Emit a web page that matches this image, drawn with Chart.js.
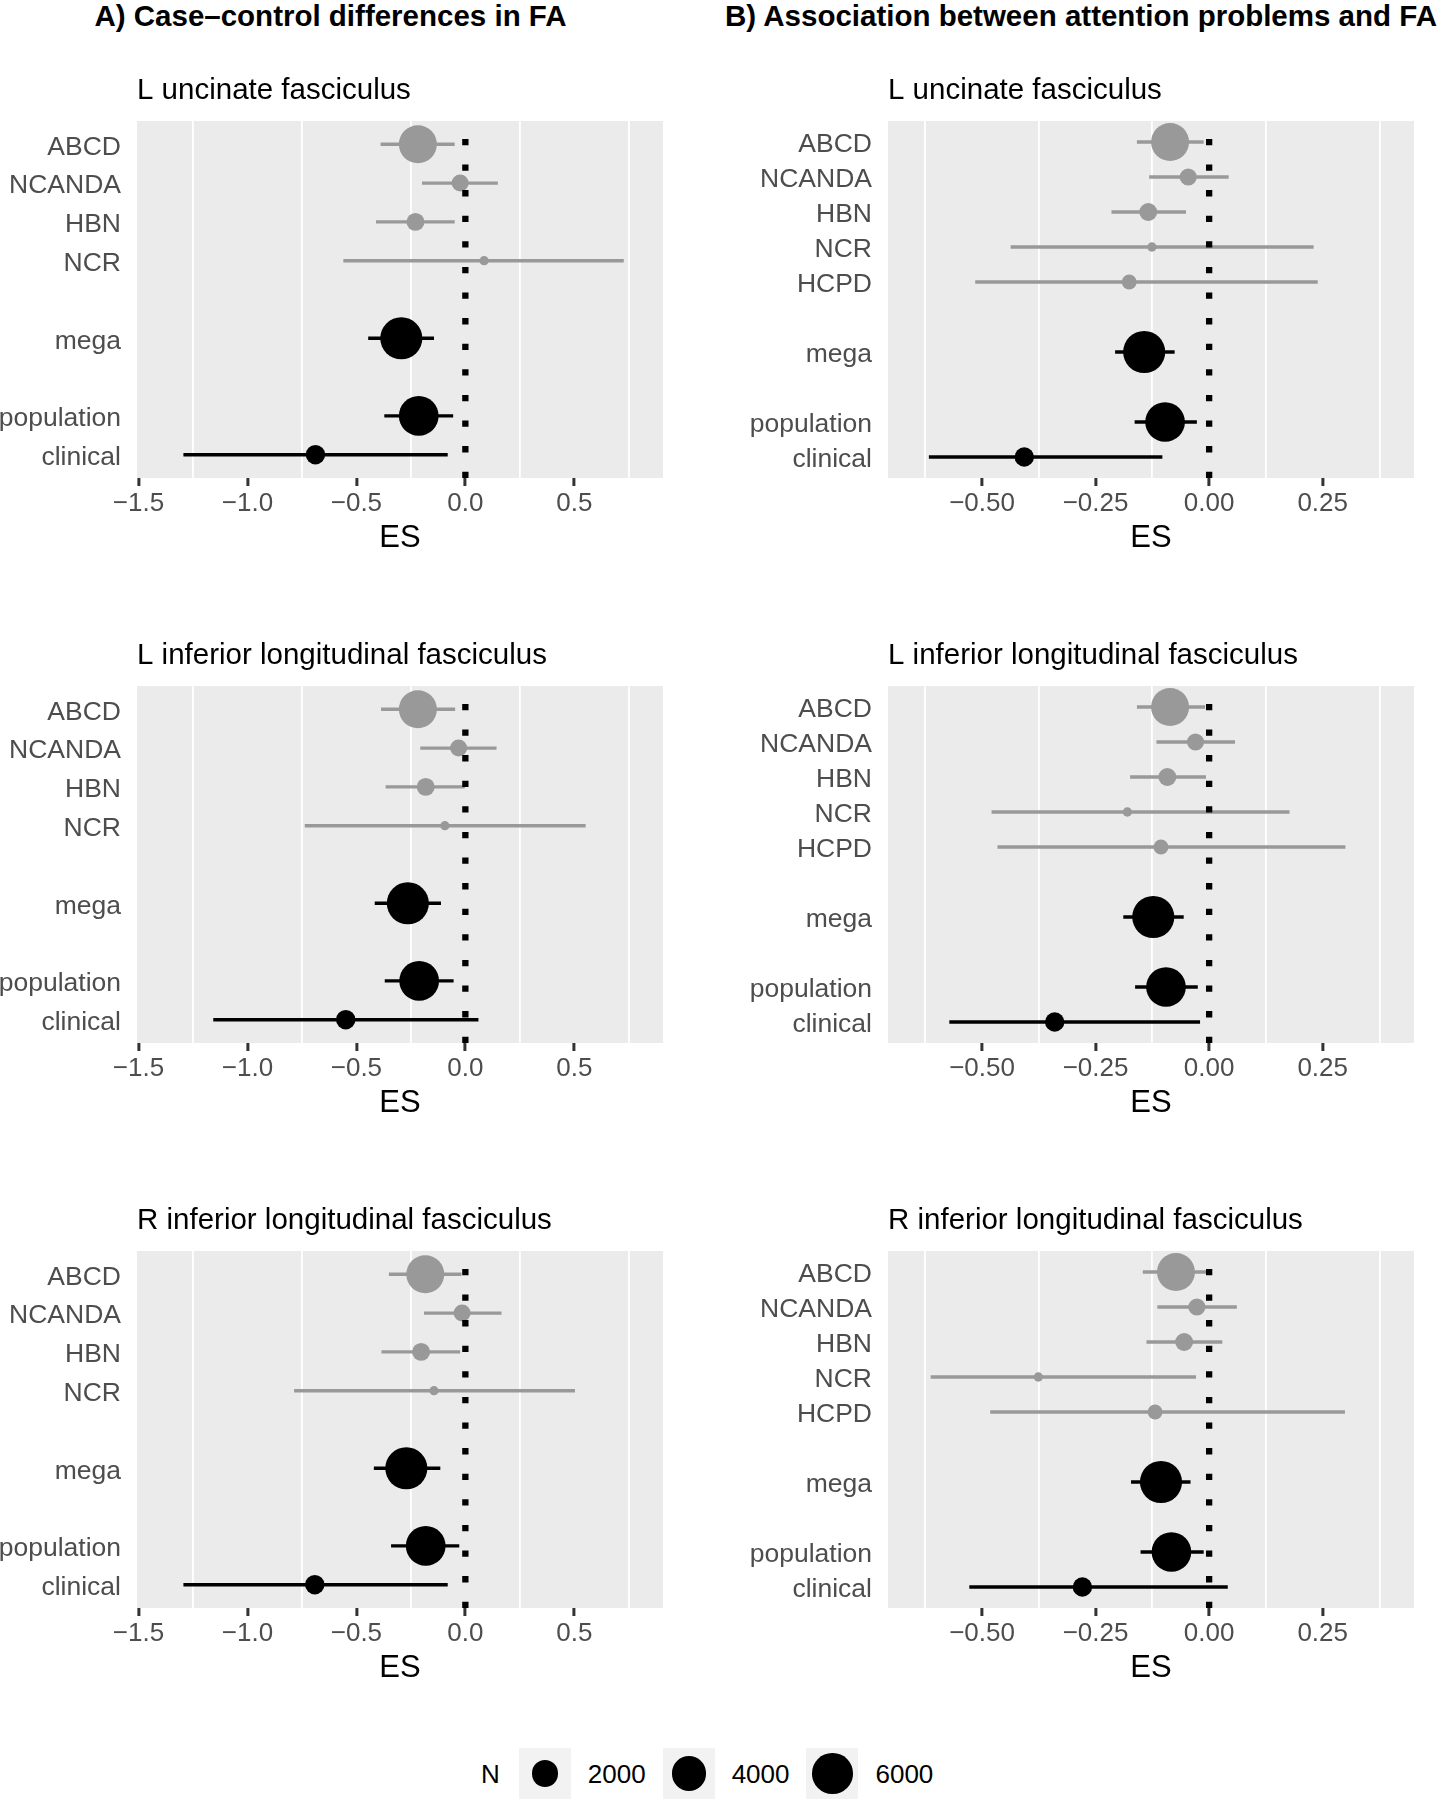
<!DOCTYPE html>
<html>
<head>
<meta charset="utf-8">
<script src="https://cdn.jsdelivr.net/npm/chart.js@4.4.1/dist/chart.umd.min.js"></script>
<style>
  body { margin: 0; background: #fff; font-family: "Liberation Sans", Arial, sans-serif; }
  #page { position: relative; width: 1442px; height: 1800px; overflow: hidden; }
  canvas { position: absolute; }
  .head { position: absolute; top: 1px; font-weight: bold; font-size: 29.5px; line-height: 29.5px; text-align: center; white-space: nowrap; color: #000; }
  #legend { position: absolute; left: 481px; top: 1748px; height: 51px; display: flex; align-items: center; font-size: 26px; line-height: 26px; color: #000; }
  .key { width: 52px; height: 51px; background: #F2F2F2; display: flex; align-items: center; justify-content: center; }
  .dot { background: #000; border-radius: 50%; }
</style>
</head>
<body>
<div id="page">
  <div class="head" style="left:0;width:661px">A) Case–control differences in FA</div>
  <div class="head" style="left:721px;width:720px">B) Association between attention problems and FA</div>
  <canvas id="a0"></canvas><canvas id="a1"></canvas><canvas id="a2"></canvas>
  <canvas id="b0"></canvas><canvas id="b1"></canvas><canvas id="b2"></canvas>
  <div id="legend"></div>
</div>
<script>
// rows on the y axis (blank rows are spacers)
const rowsA = ["ABCD", "NCANDA", "HBN", "NCR", "", "mega", "", "population", "clinical"]
const rowsB = ["ABCD", "NCANDA", "HBN", "NCR", "HCPD", "", "mega", "", "population", "clinical"]
const studiesA = ["ABCD", "NCANDA", "HBN", "NCR", "mega", "population", "clinical"]
const studiesB = ["ABCD", "NCANDA", "HBN", "NCR", "HCPD", "mega", "population", "clinical"]
const pooled = ["mega", "population", "clinical"]
const tracts = ["L uncinate fasciculus", "L inferior longitudinal fasciculus", "R inferior longitudinal fasciculus"]

// sample sizes (point size)
const nA = [5200, 560, 660, 110, 6700, 5800, 840]
const nB = [5200, 580, 660, 110, 370, 6700, 5800, 840]
const legendN = [2000, 4000, 6000]

// A) case-control effect sizes
const esA_UF = [-0.218, -0.024, -0.229, 0.086, -0.294, -0.214, -0.688]
const loA_UF = [-0.389, -0.199, -0.410, -0.560, -0.446, -0.372, -1.294]
const hiA_UF = [-0.049, 0.149, -0.049, 0.727, -0.144, -0.056, -0.081]

const esA_LILF = [-0.218, -0.031, -0.182, -0.094, -0.264, -0.212, -0.549]
const loA_LILF = [-0.387, -0.207, -0.366, -0.737, -0.416, -0.370, -1.157]
const hiA_LILF = [-0.047, 0.143, -0.003, 0.552, -0.112, -0.054, 0.060]

const esA_RILF = [-0.184, -0.015, -0.203, -0.144, -0.271, -0.182, -0.691]
const loA_RILF = [-0.351, -0.190, -0.385, -0.786, -0.420, -0.341, -1.294]
const hiA_RILF = [-0.018, 0.166, -0.024, 0.503, -0.115, -0.028, -0.081]

// B) association with attention problems
const esB_UF = [-0.086, -0.046, -0.134, -0.126, -0.176, -0.143, -0.097, -0.407]
const loB_UF = [-0.159, -0.132, -0.215, -0.437, -0.515, -0.207, -0.164, -0.617]
const hiB_UF = [-0.012, 0.043, -0.051, 0.230, 0.239, -0.076, -0.027, -0.103]

const esB_LILF = [-0.086, -0.030, -0.092, -0.180, -0.106, -0.123, -0.095, -0.340]
const loB_LILF = [-0.159, -0.116, -0.174, -0.479, -0.466, -0.189, -0.163, -0.572]
const hiB_LILF = [-0.009, 0.057, -0.007, 0.177, 0.300, -0.056, -0.025, -0.020]

const esB_RILF = [-0.073, -0.027, -0.055, -0.376, -0.119, -0.106, -0.083, -0.279]
const loB_RILF = [-0.146, -0.114, -0.138, -0.613, -0.482, -0.172, -0.151, -0.528]
const hiB_RILF = [-0.005, 0.061, 0.029, -0.029, 0.299, -0.041, -0.012, 0.041]

// x axis ticks
const limA = [-1.507, 0.907]
const ticksA = [-1.5, -1.0, -0.5, 0.0, 0.5]
const labelsA = ["−1.5", "−1.0", "−0.5", "0.0", "0.5"]
const gridA = [-1.25, -0.75, -0.25, 0.25, 0.75]

const limB = [-0.707, 0.451]
const ticksB = [-0.5, -0.25, 0.0, 0.25]
const labelsB = ["−0.50", "−0.25", "0.00", "0.25"]
const gridB = [-0.625, -0.375, -0.125, 0.125, 0.375]

Chart.defaults.font.family = '"Liberation Sans", Arial, sans-serif'

// point radius in px from N
function sizeScale(n) {
  return 4 + 0.21 * Math.sqrt(Math.max(n - 100, 0))
}

const panelBg = {
  id: "panelBg",
  beforeDraw(chart) {
    const { ctx, chartArea: a } = chart
    ctx.save()
    ctx.fillStyle = "#EBEBEB"
    ctx.fillRect(a.left, a.top, a.width, a.height)
    ctx.restore()
  },
}

const near = (list, v) => list.findIndex(t => Math.abs(t - v) < 1e-9)

// plot box inside each canvas: top 50, height 357, x axis 82 tall below
const PLOT_TOP = 50
const PLOT_H = 357
const AXIS_H = 82
const CANVAS_H = 495

function makePanel(id, geo, rows, studies, n, est, lo, hi, axis, title) {
  const canvas = document.getElementById(id)
  const width = geo.plotRight - geo.left + 30
  canvas.width = width
  canvas.height = CANVAS_H
  canvas.style.left = geo.left + "px"
  canvas.style.top = geo.top + "px"

  const colors = studies.map(s => (pooled.includes(s) ? "#000000" : "#999999"))
  const rowOf = studies.map(s => rows.indexOf(s))
  const yMax = rows.length - 0.4

  const datasets = [
    {
      type: "line",
      data: [{ x: 0, y: yMax }, { x: 0, y: -0.6 }],
      borderColor: "#000000",
      borderWidth: 6.3,
      borderDash: [6.3, 19.3],
      borderCapStyle: "butt",
      pointRadius: 0,
    },
    {
      type: "bubble",
      data: studies.map((s, i) => ({ x: est[i], y: rowOf[i], r: sizeScale(n[i]) })),
      backgroundColor: colors,
      borderWidth: 0,
      hoverRadius: 0,
    },
  ]
  studies.forEach((s, i) => {
    datasets.push({
      type: "line",
      data: [{ x: lo[i], y: rowOf[i] }, { x: hi[i], y: rowOf[i] }],
      borderColor: colors[i],
      borderWidth: 3.4,
      borderCapStyle: "butt",
      pointRadius: 0,
    })
  })

  const allTicks = [...axis.grid, ...axis.ticks].sort((a, b) => a - b)

  const chart = new Chart(canvas, {
    type: "scatter",
    data: { datasets },
    plugins: [panelBg],
    options: {
      responsive: false,
      animation: false,
      events: [],
      layout: { padding: { left: 0, right: 30, top: 0, bottom: CANVAS_H - PLOT_TOP - PLOT_H - AXIS_H } },
      plugins: {
        legend: { display: false },
        tooltip: { enabled: false },
        title: {
          display: true,
          text: title,
          align: "start",
          fullSize: false,
          color: "#000000",
          font: { size: 29.5, weight: "normal" },
          padding: { top: 2, bottom: 12.6 },
        },
      },
      scales: {
        x: {
          type: "linear",
          min: axis.lim[0],
          max: axis.lim[1],
          afterBuildTicks: s => { s.ticks = allTicks.map(v => ({ value: v })) },
          afterFit: s => { s.height = AXIS_H },
          border: { display: false },
          grid: {
            color: c => (near(axis.grid, c.tick.value) >= 0 ? "#FFFFFF" : "rgba(0,0,0,0)"),
            lineWidth: 1.8,
            tickColor: c => (near(axis.ticks, c.tick.value) >= 0 ? "#333333" : "rgba(0,0,0,0)"),
            tickWidth: 3,
            tickLength: 8,
          },
          ticks: {
            autoSkip: false,
            maxRotation: 0,
            padding: 2,
            color: "#4D4D4D",
            font: { size: 26 },
            callback: v => {
              const k = near(axis.ticks, v)
              return k < 0 ? "" : axis.labels[k]
            },
          },
          title: {
            display: true,
            text: "ES",
            color: "#000000",
            font: { size: 31 },
            padding: { top: 2, bottom: 3 },
          },
        },
        y: {
          type: "linear",
          min: -0.6,
          max: yMax,
          reverse: true,
          afterBuildTicks: s => { s.ticks = rows.map((r, i) => ({ value: i })) },
          afterFit: s => { s.width = geo.yw },
          border: { display: false },
          grid: { display: false, drawTicks: false },
          ticks: {
            autoSkip: false,
            padding: 16,
            labelOffset: 3,
            color: "#4D4D4D",
            font: { size: 26.5 },
            callback: v => rows[v] ?? "",
          },
        },
      },
    },
  })

  // nudge the layout so the plot box lands where the reference has it
  for (let pass = 0; pass < 3; pass++) {
    const a = chart.chartArea
    const dTop = PLOT_TOP - a.top
    const dRight = a.right - (geo.plotRight - geo.left)
    const dBottom = a.bottom - (PLOT_TOP + PLOT_H)
    if (Math.abs(dTop) < 0.2 && Math.abs(dRight) < 0.2 && Math.abs(dBottom) < 0.2) break
    const o = chart.options
    o.plugins.title.padding = { top: 2, bottom: o.plugins.title.padding.bottom + dTop }
    o.layout.padding = {
      left: 0,
      top: 0,
      right: o.layout.padding.right + dRight,
      bottom: o.layout.padding.bottom + dBottom,
    }
    chart.update()
  }
}

const rowTops = [71, 636, 1201]
const axisA = { lim: limA, ticks: ticksA, labels: labelsA, grid: gridA }
const axisB = { lim: limB, ticks: ticksB, labels: labelsB, grid: gridB }
const geoA = { left: 0, plotRight: 663, yw: 137 }
const geoB = { left: 721, plotRight: 1414, yw: 167 }

makePanel("a0", { ...geoA, top: rowTops[0] }, rowsA, studiesA, nA, esA_UF, loA_UF, hiA_UF, axisA, tracts[0])
makePanel("a1", { ...geoA, top: rowTops[1] }, rowsA, studiesA, nA, esA_LILF, loA_LILF, hiA_LILF, axisA, tracts[1])
makePanel("a2", { ...geoA, top: rowTops[2] }, rowsA, studiesA, nA, esA_RILF, loA_RILF, hiA_RILF, axisA, tracts[2])
makePanel("b0", { ...geoB, top: rowTops[0] }, rowsB, studiesB, nB, esB_UF, loB_UF, hiB_UF, axisB, tracts[0])
makePanel("b1", { ...geoB, top: rowTops[1] }, rowsB, studiesB, nB, esB_LILF, loB_LILF, hiB_LILF, axisB, tracts[1])
makePanel("b2", { ...geoB, top: rowTops[2] }, rowsB, studiesB, nB, esB_RILF, loB_RILF, hiB_RILF, axisB, tracts[2])

// size legend
const legend = document.getElementById("legend")
const label = document.createElement("span")
label.textContent = "N"
label.style.marginRight = "19px"
legend.appendChild(label)
legendN.forEach(v => {
  const key = document.createElement("div")
  key.className = "key"
  const dot = document.createElement("div")
  dot.className = "dot"
  const d = 2 * sizeScale(v)
  dot.style.width = d + "px"
  dot.style.height = d + "px"
  key.appendChild(dot)
  const txt = document.createElement("span")
  txt.textContent = String(v)
  txt.style.margin = "0 17px 0 17px"
  legend.appendChild(key)
  legend.appendChild(txt)
})
</script>
</body>
</html>
